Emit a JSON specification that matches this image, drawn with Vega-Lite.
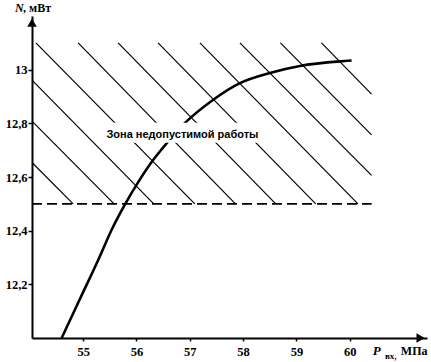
{
  "$schema": "https://vega.github.io/schema/vega-lite/v6.json",
  "width": 395,
  "height": 322,
  "autosize": {"type": "none"},
  "padding": {"left": 32, "top": 16, "right": 4, "bottom": 24},
  "background": "white",
  "config": {
    "view": {"stroke": null},
    "axis": {"grid": false, "domainColor": "black", "domainWidth": 2, "tickColor": "black", "tickWidth": 1.5, "labelColor": "black", "labelFont": "Liberation Serif", "labelFontWeight": "bold", "labelFontSize": 12}
  },
  "datasets": {
    "curve": [
      {"P": 54.597, "N": 12.0},
      {"P": 54.95, "N": 12.15},
      {"P": 55.28, "N": 12.29},
      {"P": 55.55, "N": 12.41},
      {"P": 55.79, "N": 12.5},
      {"P": 56.03, "N": 12.58},
      {"P": 56.315, "N": 12.664},
      {"P": 56.48, "N": 12.705},
      {"P": 56.877, "N": 12.795},
      {"P": 57.44, "N": 12.888},
      {"P": 57.94, "N": 12.95},
      {"P": 58.503, "N": 12.988},
      {"P": 59.065, "N": 13.014},
      {"P": 59.815, "N": 13.031},
      {"P": 60.035, "N": 13.034}
    ],
    "hatch": [
      {"id": 1, "P": 54.04, "N": 12.654, "P2": 54.812, "N2": 12.5},
      {"id": 2, "P": 54.04, "N": 12.808, "P2": 55.58, "N2": 12.5},
      {"id": 3, "P": 54.04, "N": 12.961, "P2": 56.325, "N2": 12.5},
      {"id": 4, "P": 54.113, "N": 13.1, "P2": 57.094, "N2": 12.5},
      {"id": 5, "P": 54.906, "N": 13.1, "P2": 57.857, "N2": 12.5},
      {"id": 6, "P": 55.656, "N": 13.1, "P2": 58.613, "N2": 12.5},
      {"id": 7, "P": 56.405, "N": 13.1, "P2": 59.363, "N2": 12.5},
      {"id": 8, "P": 57.19, "N": 13.1, "P2": 60.155, "N2": 12.5},
      {"id": 9, "P": 57.94, "N": 13.1, "P2": 60.41, "N2": 12.606},
      {"id": 10, "P": 58.7, "N": 13.1, "P2": 60.41, "N2": 12.757},
      {"id": 11, "P": 59.47, "N": 13.1, "P2": 60.41, "N2": 12.909}
    ],
    "limit": [{"P": 54.04, "P2": 60.41, "N": 12.5}],
    "box": [{"P": 55.43, "P2": 58.3, "N": 12.728, "N2": 12.802}],
    "zone": [{"P": 56.862, "N": 12.747, "t": "Зона недопустимой работы"}],
    "arrowY": [{"P": 54.04, "N": 13.175}],
    "arrowX": [{"P": 61.33, "N": 12.0}],
    "nTitle": [{"P": 53.721, "N": 13.216, "t": "N"}],
    "nUnit": [{"P": 53.871, "N": 13.216, "t": ", мВт"}],
    "pTitle": [{"P": 60.434, "N": 11.937, "t": "P"}],
    "pSub": [{"P": 60.66, "N": 11.922, "t": "вх,"}],
    "pUnit": [{"P": 60.959, "N": 11.937, "t": "МПа"}]
  },
  "encoding": {
    "x": {"field": "P", "type": "quantitative", "title": null,
      "scale": {"domain": [54.04, 61.45], "nice": false, "zero": false},
      "axis": {"values": [55, 56, 57, 58, 59, 60], "tickSize": 3, "labelPadding": 4, "orient": "bottom",
        "labelFont": "Liberation Serif", "labelFontWeight": "bold", "labelFontSize": 12.5}},
    "y": {"field": "N", "type": "quantitative", "title": null,
      "scale": {"domain": [12.0, 13.2], "nice": false, "zero": false},
      "axis": {"values": [12.2, 12.4, 12.6, 12.8, 13], "tickSize": 4, "labelPadding": 1,
        "labelFont": "Liberation Serif", "labelFontWeight": "bold", "labelFontSize": 12.5,
        "labelExpr": "replace(format(datum.value, '.3~g'), '.', ',')"}}
  },
  "layer": [
    {
      "data": {"name": "hatch"},
      "mark": {"type": "rule", "color": "black", "strokeWidth": 1.2},
      "encoding": {
        "x2": {"field": "P2"},
        "y2": {"field": "N2"},
        "detail": {"field": "id"}
      }
    },
    {
      "data": {"name": "limit"},
      "mark": {"type": "rule", "color": "black", "strokeWidth": 1.6, "strokeDash": [10, 5]},
      "encoding": {
        "x2": {"field": "P2"}
      }
    },
    {
      "data": {"name": "curve"},
      "mark": {"type": "line", "color": "black", "strokeWidth": 2.6, "interpolate": "monotone"},
      "encoding": {}
    },
    {
      "data": {"name": "box"},
      "mark": {"type": "rect", "color": "white", "opacity": 1},
      "encoding": {
        "x2": {"field": "P2"},
        "y2": {"field": "N2"}
      }
    },
    {
      "data": {"name": "zone"},
      "mark": {"type": "text", "font": "Liberation Sans", "fontSize": 11, "fontWeight": "bold", "color": "black", "align": "center", "baseline": "alphabetic"},
      "encoding": {"text": {"field": "t"}}
    },
    {
      "data": {"name": "arrowY"},
      "mark": {"type": "point", "shape": "triangle-up", "filled": true, "color": "black", "size": 90, "opacity": 1},
      "encoding": {}
    },
    {
      "data": {"name": "arrowX"},
      "mark": {"type": "point", "shape": "triangle-right", "filled": true, "color": "black", "size": 90, "opacity": 1},
      "encoding": {}
    },
    {
      "data": {"name": "nTitle"},
      "mark": {"type": "text", "font": "Liberation Serif", "fontSize": 12, "fontWeight": "bold", "fontStyle": "italic", "color": "black", "align": "left", "baseline": "alphabetic"},
      "encoding": {"text": {"field": "t"}}
    },
    {
      "data": {"name": "nUnit"},
      "mark": {"type": "text", "font": "Liberation Serif", "fontSize": 12, "fontWeight": "bold", "color": "black", "align": "left", "baseline": "alphabetic"},
      "encoding": {"text": {"field": "t"}}
    },
    {
      "data": {"name": "pTitle"},
      "mark": {"type": "text", "font": "Liberation Serif", "fontSize": 13, "fontWeight": "bold", "fontStyle": "italic", "color": "black", "align": "left", "baseline": "alphabetic"},
      "encoding": {"text": {"field": "t"}}
    },
    {
      "data": {"name": "pSub"},
      "mark": {"type": "text", "font": "Liberation Serif", "fontSize": 9, "fontWeight": "bold", "color": "black", "align": "left", "baseline": "alphabetic"},
      "encoding": {"text": {"field": "t"}}
    },
    {
      "data": {"name": "pUnit"},
      "mark": {"type": "text", "font": "Liberation Serif", "fontSize": 12, "fontWeight": "bold", "color": "black", "align": "left", "baseline": "alphabetic"},
      "encoding": {"text": {"field": "t"}}
    }
  ]
}
